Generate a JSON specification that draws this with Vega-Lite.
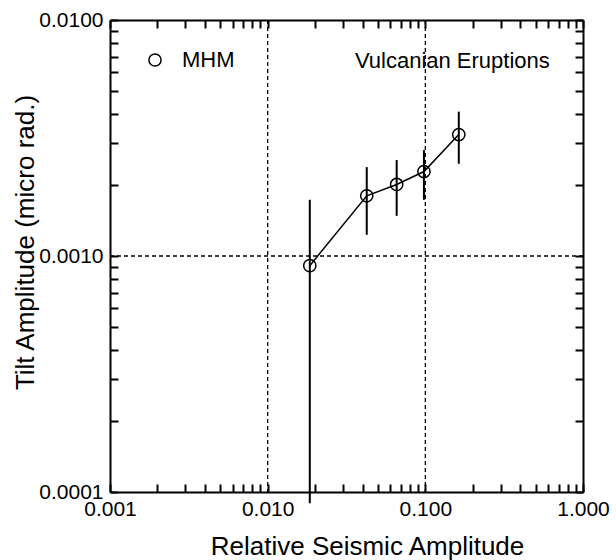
{
  "$schema": "https://vega.github.io/schema/vega-lite/v6.json",
  "autosize": {"type": "none"},
  "width": 473,
  "height": 472,
  "padding": {"left": 110, "top": 20, "right": 33, "bottom": 68},
  "background": "white",
  "config": {
    "font": "Liberation Sans",
    "view": {"stroke": null},
    "axis": {
      "domainColor": "black",
      "domainWidth": 2,
      "grid": false,
      "labelColor": "black",
      "labelFontSize": 21,
      "labelFlush": false,
      "labelOverlap": false,
      "titleColor": "black",
      "titleFontSize": 26,
      "titleFontWeight": "normal"
    }
  },
  "datasets": {
    "points": [
      {"seismic": 0.0185, "tilt": 0.00091, "lo": 0.0000897, "hi": 0.00173, "series": "MHM"},
      {"seismic": 0.0425, "tilt": 0.00180, "lo": 0.00123, "hi": 0.00238, "series": "MHM"},
      {"seismic": 0.0658, "tilt": 0.00201, "lo": 0.00148, "hi": 0.00255, "series": "MHM"},
      {"seismic": 0.098, "tilt": 0.00228, "lo": 0.00173, "hi": 0.00281, "series": "MHM"},
      {"seismic": 0.163, "tilt": 0.00327, "lo": 0.00246, "hi": 0.00409, "series": "MHM"}
    ],
    "vgrid": [{"x": 0.01}, {"x": 0.1}],
    "hgrid": [{"y": 0.001}],
    "note": [{"x": 0.616, "y": 0.00626, "text": "Vulcanian Eruptions"}]
  },
  "layer": [
    {
      "data": {"name": "vgrid"},
      "mark": {"type": "rule", "color": "black", "strokeWidth": 1.3, "strokeDash": [4, 3]},
      "encoding": {
        "x": {
          "field": "x", "type": "quantitative",
          "scale": {"type": "log", "domain": [0.001, 1], "nice": false},
          "axis": {
            "orient": "bottom",
            "zindex": 1,
            "tickSize": -8,
            "tickColor": "black",
            "tickWidth": 2,
            "values": [0.001,0.002,0.003,0.004,0.005,0.006,0.007,0.008,0.009,0.01,0.02,0.03,0.04,0.05,0.06,0.07,0.08,0.09,0.1,0.2,0.3,0.4,0.5,0.6,0.7,0.8,0.9,1],
            "labelExpr": "indexof([0.001,0.01,0.1,1], datum.value) >= 0 ? format(datum.value, '.3f') : ''",
            "labelPadding": 14,
            "title": "Relative Seismic Amplitude",
            "titleX": 257,
            "titleY": 62,
            "titleBaseline": "alphabetic",
            "titleAlign": "center"
          }
        }
      }
    },
    {
      "data": {"name": "hgrid"},
      "mark": {"type": "rule", "color": "black", "strokeWidth": 1.3, "strokeDash": [4, 3]},
      "encoding": {
        "y": {
          "field": "y", "type": "quantitative",
          "scale": {"type": "log", "domain": [0.0001, 0.01], "nice": false},
          "axis": {
            "orient": "left",
            "zindex": 1,
            "tickSize": -8,
            "tickColor": "black",
            "tickWidth": 2,
            "values": [0.0001,0.0002,0.0003,0.0004,0.0005,0.0006,0.0007,0.0008,0.0009,0.001,0.002,0.003,0.004,0.005,0.006,0.007,0.008,0.009,0.01],
            "labelExpr": "indexof([0.0001,0.001,0.01], datum.value) >= 0 ? format(datum.value, '.4f') : ''",
            "labelPadding": 15,
            "title": "Tilt Amplitude (micro rad.)",
            "titleX": -77,
            "titleY": 222,
            "titleBaseline": "alphabetic",
            "titleAlign": "center",
            "titleAngle": -90
          }
        }
      }
    },
    {
      "data": {"name": "points"},
      "mark": {"type": "rule", "color": "black", "strokeWidth": 2},
      "encoding": {
        "x": {
          "field": "seismic", "type": "quantitative",
          "scale": {"type": "log", "domain": [0.001, 1], "nice": false},
          "axis": {
            "orient": "top",
            "zindex": 1,
            "tickSize": -8,
            "tickColor": "black",
            "tickWidth": 2,
            "values": [0.001,0.002,0.003,0.004,0.005,0.006,0.007,0.008,0.009,0.01,0.02,0.03,0.04,0.05,0.06,0.07,0.08,0.09,0.1,0.2,0.3,0.4,0.5,0.6,0.7,0.8,0.9,1],
            "labels": false,
            "title": null
          }
        },
        "y": {
          "field": "lo", "type": "quantitative",
          "scale": {"type": "log", "domain": [0.0001, 0.01], "nice": false},
          "axis": {
            "orient": "right",
            "zindex": 1,
            "tickSize": -8,
            "tickColor": "black",
            "tickWidth": 2,
            "values": [0.0001,0.0002,0.0003,0.0004,0.0005,0.0006,0.0007,0.0008,0.0009,0.001,0.002,0.003,0.004,0.005,0.006,0.007,0.008,0.009,0.01],
            "labels": false,
            "title": null
          }
        },
        "y2": {"field": "hi"}
      }
    },
    {
      "data": {"name": "points"},
      "mark": {"type": "line", "color": "black", "strokeWidth": 1.5},
      "encoding": {
        "x": {"field": "seismic", "type": "quantitative", "scale": {"type": "log", "domain": [0.001, 1], "nice": false}, "axis": null},
        "y": {"field": "tilt", "type": "quantitative", "scale": {"type": "log", "domain": [0.0001, 0.01], "nice": false}, "axis": null}
      }
    },
    {
      "data": {"name": "points"},
      "mark": {"type": "point", "filled": false, "color": "black", "size": 150, "strokeWidth": 1.5, "opacity": 1},
      "encoding": {
        "x": {"field": "seismic", "type": "quantitative", "scale": {"type": "log", "domain": [0.001, 1], "nice": false}, "axis": null},
        "y": {"field": "tilt", "type": "quantitative", "scale": {"type": "log", "domain": [0.0001, 0.01], "nice": false}, "axis": null},
        "shape": {
          "field": "series", "type": "nominal",
          "scale": {"range": ["circle"]},
          "legend": {
            "orient": "none",
            "legendX": 34,
            "legendY": 29,
            "title": null,
            "symbolSize": 150,
            "symbolStrokeWidth": 1.5,
            "symbolStrokeColor": "black",
            "labelFontSize": 22,
            "labelColor": "black",
            "labelOffset": 16
          }
        }
      }
    },
    {
      "data": {"name": "note"},
      "mark": {"type": "text", "align": "right", "baseline": "alphabetic", "fontSize": 22, "color": "black"},
      "encoding": {
        "x": {"field": "x", "type": "quantitative", "scale": {"type": "log", "domain": [0.001, 1], "nice": false}, "axis": null},
        "y": {"field": "y", "type": "quantitative", "scale": {"type": "log", "domain": [0.0001, 0.01], "nice": false}, "axis": null},
        "text": {"field": "text"}
      }
    }
  ],
  "resolve": {"axis": {"x": "independent", "y": "independent"}}
}
